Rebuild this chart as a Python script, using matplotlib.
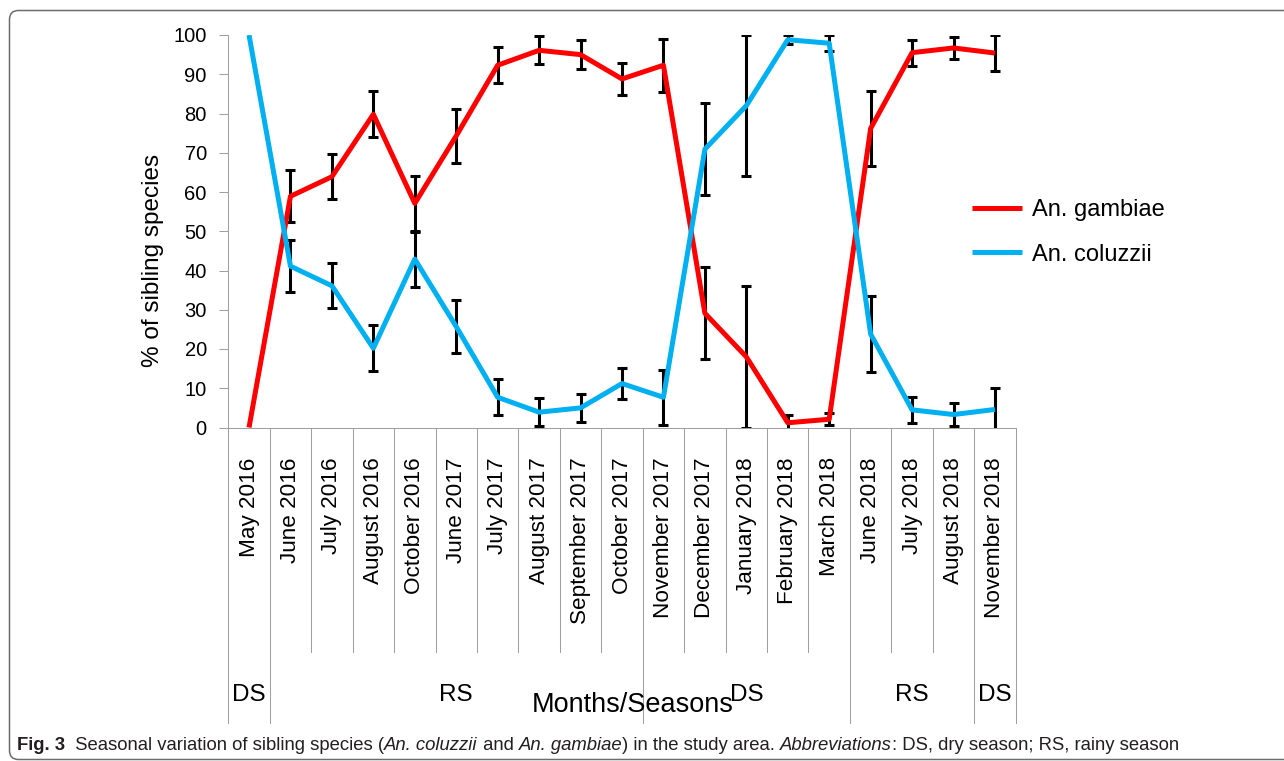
import matplotlib.pyplot as plt
import matplotlib.transforms as mtransforms
from matplotlib.path import Path
from matplotlib.patches import PathPatch
import numpy as np

plt.rcParams['font.family'] = ['Liberation Sans', 'DejaVu Sans']

# sampling months and % of each sibling species (mean and error)
months = ['May 2016', 'June 2016', 'July 2016', 'August 2016', 'October 2016',
          'June 2017', 'July 2017', 'August 2017', 'September 2017', 'October 2017',
          'November 2017', 'December 2017', 'January 2018', 'February 2018',
          'March 2018', 'June 2018', 'July 2018', 'August 2018', 'November 2018']
gambiae = [0, 58.9, 63.9, 79.8, 57.1, 74.3, 92.3, 96.1, 95.0, 88.8,
           92.3, 29.1, 18.0, 1.2, 2.1, 76.2, 95.5, 96.7, 95.4]
gambiae_err = [0, 6.6, 5.7, 5.9, 7.0, 6.8, 4.6, 3.6, 3.6, 4.0,
               6.8, 11.7, 18.0, 2.0, 1.5, 9.6, 3.3, 2.9, 4.6]
coluzzii = [100, 41.1, 36.1, 20.2, 42.9, 25.7, 7.7, 3.9, 5.0, 11.2,
            7.7, 70.9, 82.0, 98.8, 97.9, 23.8, 4.5, 3.3, 4.6]
coluzzii_err = [0, 6.6, 5.7, 5.9, 7.0, 6.8, 4.6, 3.6, 3.6, 4.0,
                7.0, 11.7, 18.0, 1.2, 2.0, 9.6, 3.3, 2.9, 5.4]

# seasons: label, first and last month index
seasons = ['DS', 'RS', 'DS', 'RS', 'DS']
season_first = [0, 1, 10, 15, 18]
season_last = [0, 9, 14, 17, 18]

W, H = 1284, 761
grey = '#a0a0a0'
fig = plt.figure(figsize=(W / 100, H / 100), dpi=100)
ax = fig.add_axes([228.3 / W, 1 - 427.5 / H, 787.4 / W, 392.5 / H])

x = np.arange(len(months))
series = [(gambiae, gambiae_err, '#ff0000', 'An. gambiae'),
          (coluzzii, coluzzii_err, '#00b0f0', 'An. coluzzii')]
for vals, err, col, name in series:
    vals = np.array(vals)
    err = np.array(err)
    ax.plot(x, vals, color=col, lw=3.6, label=name, zorder=3,
            solid_capstyle='butt')
    m = err > 0
    ax.errorbar(x[m], vals[m], yerr=err[m], fmt='none', ecolor='black',
                elinewidth=2.2, capsize=3.6, capthick=2.2, zorder=2)

ax.set_xlim(-0.5, len(months) - 0.5)
ax.set_ylim(0, 100)
ax.set_yticks(range(0, 101, 10))
ax.set_xticks(x)
ax.set_xticklabels(months, rotation=90, fontsize=16.2)
ax.tick_params(axis='x', length=0, pad=21.5)
ax.tick_params(axis='y', direction='out', length=6.5, width=0.75,
               color=grey, pad=9, labelsize=14.5)
for s in ['top', 'right']:
    ax.spines[s].set_visible(False)
for s in ['left', 'bottom']:
    ax.spines[s].set_color(grey)
    ax.spines[s].set_linewidth(0.75)

# category dividers below the axis, longer at season boundaries
trans = ax.get_xaxis_transform()
season_edges = [season_first[0] - 0.5] + [l + 0.5 for l in season_last]
for b in np.arange(-0.5, len(months), 1.0):
    depth = -0.753 if b in season_edges else -0.572
    ax.plot([b, b], [0, depth], transform=trans, clip_on=False,
            color=grey, lw=0.75)

for lab, a, b in zip(seasons, season_first, season_last):
    ax.text((a + b) / 2, -0.6815, lab, transform=trans, ha='center',
            va='center', fontsize=17.5)

ax.text(0.514, -0.707, 'Months/Seasons', transform=ax.transAxes,
        ha='center', va='center', fontsize=19.5)
fig.text(153 / W, 1 - 260 / H, '% of sibling species', rotation=90,
         ha='center', va='center', fontsize=17.5)

ax.legend(loc='center left', bbox_to_anchor=(0.9445, 0.497), frameon=False,
          fontsize=17, handlelength=2.12, handletextpad=0.42,
          labelspacing=0.96, borderpad=0, borderaxespad=0)

# outer frame: top and left edges with rounded corners (pixel coords)
r = 9
top, left, bot = H - 10.5, 9.5, 1.5
verts = [(W + 5, top), (left + r, top), (left, top), (left, top - r),
         (left, bot + r), (left, bot), (left + r, bot), (W + 5, bot)]
codes = [Path.MOVETO, Path.LINETO, Path.CURVE3, Path.CURVE3,
         Path.LINETO, Path.CURVE3, Path.CURVE3, Path.LINETO]
fig.add_artist(PathPatch(Path(verts, codes), fill=False, ec='#6d6d6d',
                         lw=1.1, transform=mtransforms.IdentityTransform()))

# caption
cap = fig.add_axes([0, 0, 1, 1], zorder=-1)
cap.axis('off')
parts = [('Fig. 3', 'normal', 'bold'),
         ('  Seasonal variation of sibling species (', 'normal', 'normal'),
         ('An. coluzzii', 'italic', 'normal'),
         (' and ', 'normal', 'normal'),
         ('An. gambiae', 'italic', 'normal'),
         (') in the study area. ', 'normal', 'normal'),
         ('Abbreviations', 'italic', 'normal'),
         (': DS, dry season; RS, rainy season', 'normal', 'normal')]
prev = None
for txt, style, weight in parts:
    kw = dict(fontsize=13.3, family=['Liberation Sans'], style=style,
              weight=weight, color='#231f20', va='bottom', ha='left')
    if prev is None:
        prev = cap.text(17 / W, 1 - 754 / H, txt, transform=cap.transAxes, **kw)
    else:
        prev = cap.annotate(txt, xy=(1, 0), xycoords=prev, **kw)

fig.savefig('out.png', dpi=100)
